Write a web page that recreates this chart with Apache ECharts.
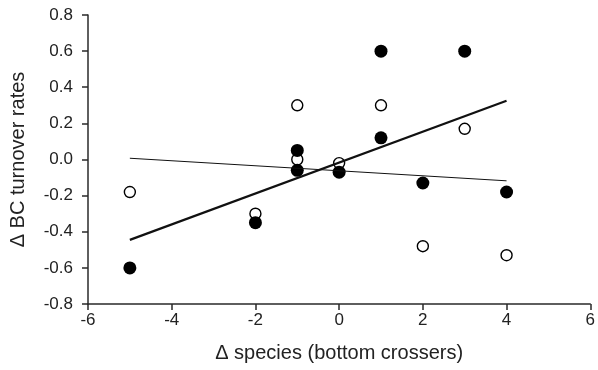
<!DOCTYPE html>
<html>
<head>
<meta charset="utf-8">
<script src="https://cdn.jsdelivr.net/npm/echarts@6/dist/echarts.min.js"></script>
<style>html,body{margin:0;padding:0;background:#fff}#c{width:598px;height:370px}</style>
</head>
<body>
<div id="c"></div>
<script>
// Filled circles
const filledX = [-5, -2, -1, -1, 0, 1, 1, 2, 3, 4];
const filledY = [-0.60, -0.35, 0.05, -0.06, -0.07, 0.60, 0.12, -0.13, 0.60, -0.18];
// Open circles
const openX = [-5, -2, -1, -1, 0, 1, 2, 3, 4];
const openY = [-0.18, -0.30, 0.30, 0.00, -0.02, 0.30, -0.48, 0.17, -0.53];
// Regression lines (end points)
const fitFilledX = [-5, 4];
const fitFilledY = [-0.445, 0.325];
const fitOpenX = [-5, 4];
const fitOpenY = [0.007, -0.118];

const xName = 'Δ species (bottom crossers)';
const yName = 'Δ BC turnover rates';

const zip = (a, b) => a.map((v, i) => [v, b[i]]);
const FONT = 'Liberation Sans, Arial, sans-serif';
const axisCol = '#2a2a2a';

const chart = echarts.init(document.getElementById('c'), null, {renderer: 'canvas'});
chart.setOption({
  animation: false,
  grid: {left: 88, right: 5, top: 15, bottom: 66, containLabel: false},
  xAxis: {
    type: 'value', min: -6, max: 6, interval: 2,
    name: xName, nameLocation: 'middle', nameGap: 39,
    nameTextStyle: {fontFamily: FONT, fontSize: 20, color: '#222'},
    axisLine: {show: true, onZero: false, lineStyle: {color: axisCol, width: 1.5}},
    axisTick: {show: true, length: 6, lineStyle: {color: axisCol, width: 1.5}},
    axisLabel: {fontFamily: FONT, fontSize: 17, color: '#222', margin: 8},
    splitLine: {show: false}
  },
  yAxis: {
    type: 'value', min: -0.8, max: 0.8, interval: 0.2,
    name: yName, nameLocation: 'middle', nameGap: 60,
    nameTextStyle: {fontFamily: FONT, fontSize: 20, color: '#222'},
    axisLine: {show: true, onZero: false, lineStyle: {color: axisCol, width: 1.5}},
    axisTick: {show: true, length: 6, lineStyle: {color: axisCol, width: 1.5}},
    axisLabel: {fontFamily: FONT, fontSize: 17, color: '#222', margin: 15,
      formatter: v => v.toFixed(1)},
    splitLine: {show: false}
  },
  series: [
    {type: 'scatter', data: zip(openX, openY), symbol: 'circle', symbolSize: 11,
      itemStyle: {color: '#fff', borderColor: '#000', borderWidth: 1.4, opacity: 1}, z: 2},
    {type: 'scatter', data: zip(filledX, filledY), symbol: 'circle', symbolSize: 13,
      itemStyle: {color: '#000', opacity: 1}, z: 3},
    {type: 'line', data: zip(fitFilledX, fitFilledY), symbol: 'none',
      lineStyle: {color: '#111', width: 2.2}, z: 4},
    {type: 'line', data: zip(fitOpenX, fitOpenY), symbol: 'none',
      lineStyle: {color: '#111', width: 1}, z: 4}
  ]
});
</script>
</body>
</html>
